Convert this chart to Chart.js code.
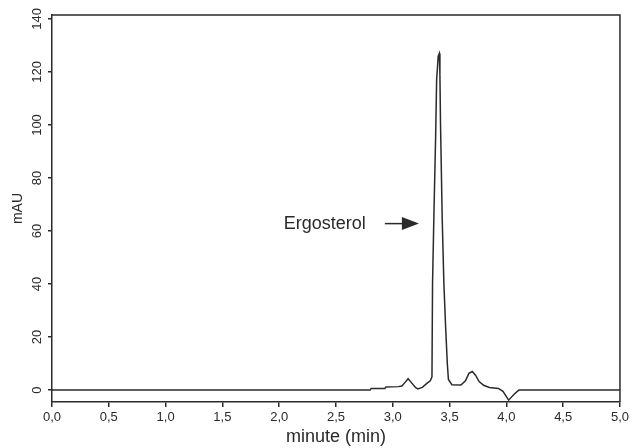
<!DOCTYPE html>
<html lang="en">
<head>
    <meta charset="UTF-8">
    <title>Ergosterol chromatogram</title>
    <script src="https://cdn.jsdelivr.net/npm/chart.js"></script>
    <style>
        body {
            margin: 0;
            background: #fff;
        }
        #chartContainer {
            width: 632px;
            height: 448px;
        }
    </style>
</head>
<body>
    <div id="chartContainer">
        <canvas id="chromChart"></canvas>
    </div>

    <script>
        // retention time (min) and absorbance (mAU)
        const times = [0, 2.80, 2.81, 2.93, 2.94, 3.05, 3.08, 3.11, 3.135, 3.16, 3.20, 3.22, 3.26, 3.30, 3.33,
            3.345, 3.35, 3.363, 3.377, 3.386, 3.40, 3.41, 3.415, 3.42, 3.435, 3.45, 3.465, 3.48, 3.49, 3.52,
            3.60, 3.64, 3.67, 3.70, 3.73, 3.76, 3.80, 3.85, 3.93, 3.97, 4.02, 4.07, 4.11, 5.0];
        const absorbance = [0, 0, 0.6, 0.6, 1.2, 1.3, 1.5, 3.0, 4.3, 3.0, 1.0, 0.4, 1.0, 2.5, 3.5,
            5, 40, 68, 95, 117, 126, 127, 119, 101, 65, 40, 24, 10, 4, 2,
            1.9, 3.5, 6.3, 7.0, 5.5, 3.2, 1.8, 1.0, 0.6, -0.5, -3.8, -1.5, 0, 0];
        const xTicks = [0, 0.5, 1, 1.5, 2, 2.5, 3, 3.5, 4, 4.5, 5];
        const yTicks = [0, 20, 40, 60, 80, 100, 120, 140];

        const peakLabel = 'Ergosterol';
        const peakLabelPos = [2.04, 62.6];   // text start
        const arrowFrom = [2.93, 62.8];
        const arrowTo = [3.23, 62.8];

        const ink = '#2a2a2a';

        const frameAndLabel = {
            id: 'frameAndLabel',
            afterDatasetsDraw(chart) {
                const ctx = chart.ctx;
                const area = chart.chartArea;
                const x = chart.scales.x;
                const y = chart.scales.y;
                ctx.save();
                // top and right border
                ctx.strokeStyle = ink;
                ctx.lineWidth = 1.5;
                ctx.beginPath();
                ctx.moveTo(area.left, area.top);
                ctx.lineTo(area.right, area.top);
                ctx.lineTo(area.right, area.bottom);
                ctx.stroke();

                // peak label + arrow
                ctx.fillStyle = ink;
                ctx.font = '18px "Liberation Sans", Arial, sans-serif';
                ctx.textBaseline = 'middle';
                ctx.textAlign = 'left';
                ctx.fillText(peakLabel, x.getPixelForValue(peakLabelPos[0]), y.getPixelForValue(peakLabelPos[1]));

                const ax0 = x.getPixelForValue(arrowFrom[0]);
                const ax1 = x.getPixelForValue(arrowTo[0]);
                const ay = y.getPixelForValue(arrowFrom[1]);
                ctx.beginPath();
                ctx.moveTo(ax0, ay);
                ctx.lineTo(ax1 - 14, ay);
                ctx.stroke();
                ctx.beginPath();
                ctx.moveTo(ax1, ay);
                ctx.lineTo(ax1 - 17, ay - 6.5);
                ctx.lineTo(ax1 - 17, ay + 6.5);
                ctx.closePath();
                ctx.fill();
                ctx.restore();
            }
        };

        const ctx = document.getElementById('chromChart').getContext('2d');
        const myChart = new Chart(ctx, {
            type: 'line',
            data: {
                datasets: [{
                    data: times.map((t, i) => ({ x: t, y: absorbance[i] })),
                    borderColor: ink,
                    borderWidth: 1.5,
                    pointRadius: 0,
                    tension: 0,
                    fill: false
                }]
            },
            options: {
                responsive: true,
                maintainAspectRatio: false,
                animation: false,
                layout: {
                    padding: { top: 15, right: 8, left: 0, bottom: 0 }
                },
                plugins: {
                    legend: { display: false },
                    tooltip: { enabled: false }
                },
                scales: {
                    x: {
                        type: 'linear',
                        min: 0,
                        max: 5,
                        afterFit(scale) { scale.height = 46; },
                        afterBuildTicks(scale) {
                            scale.ticks = xTicks.map(v => ({ value: v }));
                        },
                        ticks: {
                            color: ink,
                            font: { family: '"Liberation Sans", Arial', size: 13 },
                            padding: 3,
                            maxRotation: 0,
                            callback: v => v.toFixed(1).replace('.', ',')
                        },
                        grid: {
                            drawOnChartArea: false,
                            tickLength: 5,
                            color: ink,
                            lineWidth: 1.5
                        },
                        border: { display: true, color: ink, width: 1.5 },
                        title: {
                            display: true,
                            text: 'minute (min)',
                            color: ink,
                            font: { family: '"Liberation Sans", Arial', size: 18 },
                            padding: { top: 0, bottom: 0 }
                        }
                    },
                    y: {
                        min: -4.5,
                        max: 141.5,
                        afterFit(scale) { scale.width = 52; },
                        afterBuildTicks(scale) {
                            scale.ticks = yTicks.map(v => ({ value: v }));
                        },
                        ticks: {
                            color: ink,
                            font: { family: '"Liberation Sans", Arial', size: 13 },
                            minRotation: 90,
                            maxRotation: 90,
                            crossAlign: 'center',
                            padding: 0
                        },
                        grid: {
                            drawOnChartArea: false,
                            tickLength: 4,
                            color: ink,
                            lineWidth: 1.5
                        },
                        border: { display: true, color: ink, width: 1.5 },
                        title: {
                            display: true,
                            text: 'mAU',
                            color: ink,
                            font: { family: '"Liberation Sans", Arial', size: 14 },
                            padding: { top: 10, bottom: 0 }
                        }
                    }
                }
            },
            plugins: [frameAndLabel]
        });
    </script>
</body>
</html>
